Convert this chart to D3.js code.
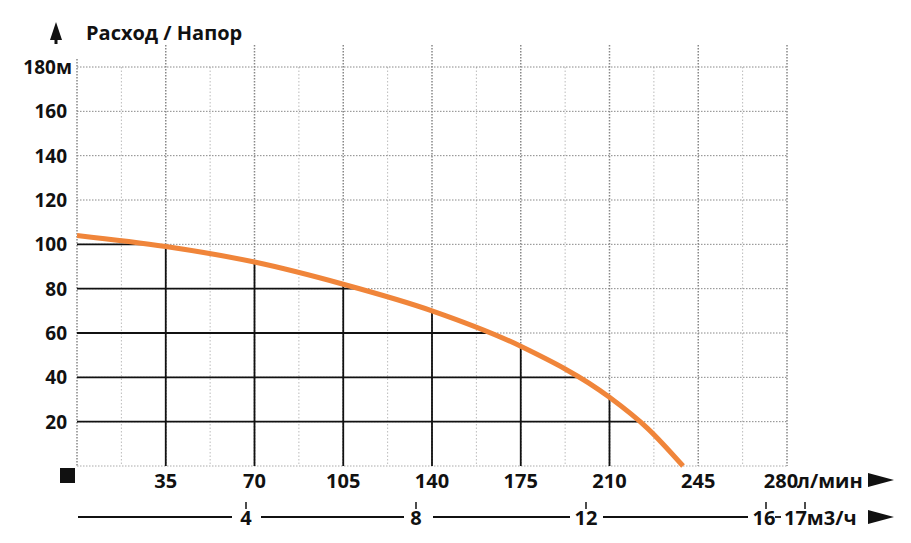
<!DOCTYPE html><html><head><meta charset="utf-8"><script src="https://cdn.jsdelivr.net/npm/d3@7"></script>
<style>body{margin:0;background:#fff}text{font-family:"Open Sans",sans-serif;font-weight:700;fill:#111}.n{font-family:"Liberation Sans Narrow","Open Sans",sans-serif}</style></head><body>
<svg id="c" width="911" height="543"></svg>
<script>
const flowTicks=[35,70,105,140,175,210,245,280];
const headTicks=[20,40,60,80,100,120,140,160,180];
const m3Ticks=[4,8,12,16,17];
const curveFlow=[0,35,70,105,140,175,210,225,239];
const curveHead=[104,99,92,82,70,54,31,17,0];
const svg=d3.select("#c");
const x=d3.scaleLinear().domain([0,280]).range([77,787]);
const y=d3.scaleLinear().domain([0,180]).range([466,67]);
const xm=d3.scaleLinear().domain([4,12]).range([246,586]);
const dot="#888";
for(let v=17.5;v<=280;v+=35) svg.append("line").attr("x1",x(v)).attr("x2",x(v)).attr("y1",y(180)).attr("y2",y(0)).attr("stroke","#bbb").attr("stroke-dasharray","1.5,2");
svg.append("line").attr("x1",x(0)).attr("x2",x(0)).attr("y1",y(180)-8).attr("y2",y(0)).attr("stroke",dot).attr("stroke-width",1.5).attr("stroke-dasharray","1.5,1.5");
flowTicks.forEach(v=>svg.append("line").attr("x1",x(v)).attr("x2",x(v)).attr("y1",y(180)-22).attr("y2",y(0)).attr("stroke",dot).attr("stroke-width",1.5).attr("stroke-dasharray","1.5,1.5"));
headTicks.forEach(v=>svg.append("line").attr("x1",x(0)).attr("x2",x(280)).attr("y1",y(v)).attr("y2",y(v)).attr("stroke",dot).attr("stroke-dasharray","1.5,1.5"));
svg.append("line").attr("x1",x(0)).attr("x2",x(280)).attr("y1",y(0)).attr("y2",y(0)).attr("stroke","#aaa").attr("stroke-dasharray","1.5,1.5");
const line=d3.line().x(d=>x(d[0])).y(d=>y(d[1])).curve(d3.curveMonotoneX);
const pts=curveFlow.map((f,i)=>[f,curveHead[i]]);
const path=svg.append("path").attr("d",line(pts)).attr("fill","none").attr("stroke","#f0853a").attr("stroke-width",5);
const node=path.node(),L=node.getTotalLength(),samp=[];
for(let i=0;i<=600;i++)samp.push(node.getPointAtLength(L*i/600));
const yAtX=px=>samp.reduce((a,p)=>Math.abs(p.x-px)<Math.abs(a.x-px)?p:a).y;
const xAtY=py=>samp.reduce((a,p)=>Math.abs(p.y-py)<Math.abs(a.y-py)?p:a).x;
const g=svg.insert("g","path");
flowTicks.filter(v=>v<=210).forEach(v=>g.append("line").attr("x1",x(v)).attr("x2",x(v)).attr("y1",y(0)).attr("y2",yAtX(x(v))).attr("stroke","#111").attr("stroke-width",1.8));
headTicks.filter(v=>v<=100).forEach(v=>g.append("line").attr("x1",x(0)).attr("x2",xAtY(y(v))).attr("y1",y(v)).attr("y2",y(v)).attr("stroke","#111").attr("stroke-width",1.8));
headTicks.forEach(v=>svg.append("text").attr("x",v==180?72:67).attr("y",y(v)+7).attr("text-anchor","end").attr("font-size",19).text(v==180?"180м":v));
flowTicks.forEach(v=>svg.append("text").attr("class","n").attr("x",x(v)-(v==280?6:0)).attr("y",488).attr("text-anchor","middle").attr("font-size",20).text(v));
svg.append("text").attr("class","n").attr("x",x(280)+10).attr("y",488).attr("font-size",20).text("л/мин");
svg.append("path").attr("d","M868,473 L894,480 L868,487Z").attr("fill","#111");
svg.append("rect").attr("x",60).attr("y",468).attr("width",15).attr("height",15).attr("fill","#111");
svg.append("path").attr("d","M56,22 L62,40 L50,40Z").attr("fill","#111");
svg.append("rect").attr("x",54.5).attr("y",38).attr("width",3).attr("height",6).attr("fill","#111");
svg.append("text").attr("x",86).attr("y",40).attr("font-size",20).text("Расход / Напор");
const ay=517;
[[78,232],[261,404],[433,570],[603,748]].forEach(s=>svg.append("line").attr("x1",s[0]).attr("x2",s[1]).attr("y1",ay).attr("y2",ay).attr("stroke","#111").attr("stroke-width",1.8));
svg.append("line").attr("x1",775).attr("x2",781).attr("y1",ay).attr("y2",ay).attr("stroke","#111").attr("stroke-width",1.8);
m3Ticks.forEach(v=>{const px=v==16?766:v==17?805:xm(v);svg.append("line").attr("x1",px).attr("x2",px).attr("y1",ay-15).attr("y2",ay-8).attr("stroke","#111").attr("stroke-width",1.5);});
m3Ticks.forEach(v=>svg.append("text").attr("class","n").attr("x",v==17?784:v==16?764:xm(v)).attr("y",ay+8).attr("text-anchor",v==17?"start":"middle").attr("font-size",20).text(v==17?"17м3/ч":v));
svg.append("path").attr("d","M868,510 L894,517 L868,524Z").attr("fill","#111");
</script></body></html>
